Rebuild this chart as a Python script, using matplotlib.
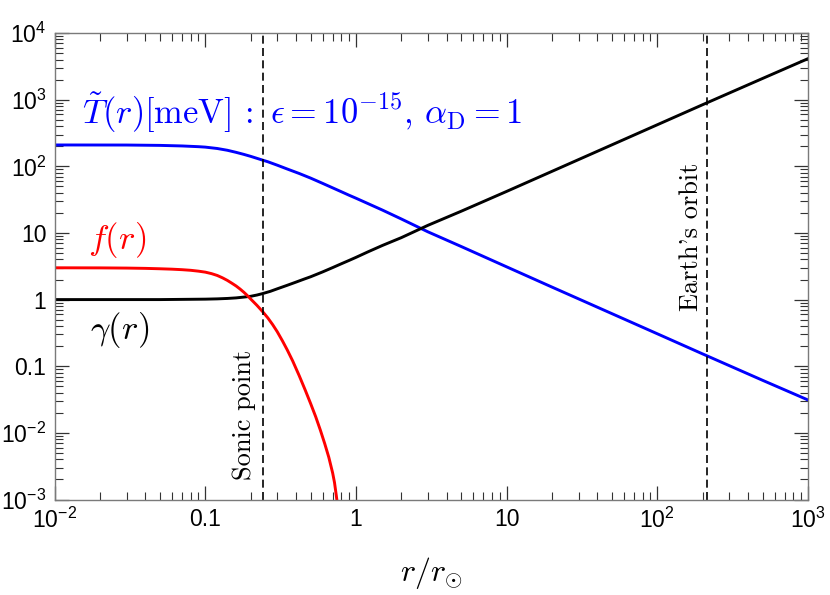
import matplotlib
matplotlib.use("Agg")
import matplotlib.pyplot as plt
from matplotlib.ticker import FixedLocator, FixedFormatter, LogLocator, NullFormatter

# ---------------- data ----------------
r_T = [0.01, 0.03, 0.05, 0.07, 0.09, 0.1, 0.12, 0.14, 0.16, 0.18, 0.2, 0.229,
       0.26, 0.3, 0.35, 0.42, 0.5, 0.6, 0.7, 0.8, 0.9, 1.0, 1.2, 1.5, 2, 3, 5,
       10, 20, 50, 100, 200, 500, 1000]
T_vals = [209, 208.5, 206, 202, 197, 194, 185, 174, 162, 151, 141, 128,
          117, 104, 91, 78, 66.5, 55.5, 47.5, 41.5, 36.8, 33.2, 27.6, 22, 16.2, 10.4, 6.25,
          3.1, 1.54, 0.615, 0.307, 0.153, 0.0615, 0.0312]

r_g = [0.01, 0.05, 0.08, 0.1, 0.12, 0.14, 0.16, 0.18, 0.2, 0.22, 0.24, 0.27,
       0.3, 0.35, 0.4, 0.45, 0.5, 0.6, 0.7, 0.8, 0.9, 1.0, 1.2, 1.5, 2, 3, 5,
       10, 20, 50, 100, 200, 500, 1000]
g_vals = [1.0, 1.0, 1.01, 1.015, 1.025, 1.04, 1.06, 1.09, 1.12, 1.17, 1.23, 1.33,
          1.45, 1.64, 1.83, 2.02, 2.2, 2.6, 3.02, 3.45, 3.87, 4.3, 5.2, 6.5, 8.5, 13.0, 21.2,
          42, 84, 210, 420, 840, 2080, 4120]

r_f = [0.01, 0.02, 0.03, 0.04, 0.05, 0.06, 0.07, 0.08, 0.09, 0.1, 0.11, 0.12,
       0.13, 0.14, 0.15, 0.16, 0.17, 0.18, 0.19, 0.2, 0.22, 0.24, 0.26, 0.28,
       0.3, 0.325, 0.35, 0.38, 0.42, 0.46, 0.5, 0.54, 0.58, 0.62, 0.66, 0.7,
       0.72, 0.74, 0.76]
f_vals = [3.0, 2.99, 2.97, 2.94, 2.9, 2.86, 2.81, 2.75, 2.67, 2.58, 2.45, 2.3,
          2.12, 1.94, 1.76, 1.6, 1.44, 1.29, 1.15, 1.02, 0.82, 0.66, 0.53, 0.42,
          0.33, 0.24, 0.175, 0.12, 0.072, 0.044, 0.0275, 0.0175, 0.011, 0.0069, 0.0043, 0.0025,
          0.0018, 0.00115, 0.00072]

sonic_r = 0.24
earth_r = 215

x_ticks = [1e-2, 1e-1, 1, 10, 1e2, 1e3]
x_ticklabels = [r'$10^{-2}$', '0.1', '1', '10', r'$10^{2}$', r'$10^{3}$']
y_ticks = [1e-3, 1e-2, 1e-1, 1, 10, 1e2, 1e3, 1e4]
y_ticklabels = [r'$10^{-3}$', r'$10^{-2}$', '0.1', '1', '10', r'$10^{2}$', r'$10^{3}$', r'$10^{4}$']

# ---------------- style ----------------
plt.rcParams['font.family'] = ['Liberation Sans', 'DejaVu Sans']
plt.rcParams['mathtext.fontset'] = 'custom'
plt.rcParams['mathtext.rm'] = 'Liberation Sans'
plt.rcParams['mathtext.it'] = 'Liberation Sans:italic'
plt.rcParams['mathtext.bf'] = 'Liberation Sans:bold'

fig = plt.figure(figsize=(8.3, 5.95), dpi=100)
ax = fig.add_axes([0.0659, 0.1605, 0.9075, 0.784])

lw = 2.1
ax.plot(r_T, T_vals, color='#0000ff', lw=lw, solid_joinstyle='round')
ax.plot(r_g, g_vals, color='black', lw=lw, solid_joinstyle='round')
ax.plot(r_f, f_vals, color='#ff0000', lw=lw, solid_joinstyle='round')

ax.axvline(sonic_r, color='black', lw=1.2, ls=(0, (4.8, 2.6)))
ax.axvline(earth_r, color='black', lw=1.2, ls=(0, (4.8, 2.6)))

ax.set_xscale('log')
ax.set_yscale('log')
ax.set_xlim(1e-2, 1e3)
ax.set_ylim(1e-3, 1e4)

ax.xaxis.set_major_locator(FixedLocator(x_ticks))
ax.xaxis.set_major_formatter(FixedFormatter(x_ticklabels))
ax.yaxis.set_major_locator(FixedLocator(y_ticks))
ax.yaxis.set_major_formatter(FixedFormatter(y_ticklabels))
ax.xaxis.set_minor_locator(LogLocator(base=10, subs=range(2, 10), numticks=50))
ax.yaxis.set_minor_locator(LogLocator(base=10, subs=range(2, 10), numticks=50))
ax.xaxis.set_minor_formatter(NullFormatter())
ax.yaxis.set_minor_formatter(NullFormatter())

for s in ax.spines.values():
    s.set_color('#7a7a7a')
    s.set_linewidth(1.0)
ax.tick_params(which='both', direction='in', top=True, right=True, color='#333333')
ax.tick_params(which='major', length=10, width=0.9, labelsize=16.5, pad=6)
ax.tick_params(which='minor', length=5.5, width=0.8)

ax.set_xlabel(r'$r/r_{\odot}$', fontsize=23, math_fontfamily='cm', labelpad=16)

# labels
fig.text(82/830, 1 - 124/595,
         r'$\tilde{T}(r)[\mathrm{meV}]\,:\ \epsilon=10^{-15},\,\alpha_{\mathrm{D}}=1$',
         color='#0000ff', fontsize=24.8, math_fontfamily='cm', ha='left', va='baseline')
fig.text(88/830, 1 - 249/595, r'$f(r)$', color='#ff0000', fontsize=25,
         math_fontfamily='cm', ha='left', va='baseline')
fig.text(90/830, 1 - 339/595, r'$\gamma(r)$', color='black', fontsize=25,
         math_fontfamily='cm', ha='left', va='baseline')

fig.text(256/830, 1 - 480/595, 'Sonic point', family='cmr10', fontsize=19,
         rotation=90, ha='right', va='bottom')
fig.text(703/830, 1 - 311/595, "Earth's orbit", family='cmr10',
         fontsize=19, rotation=90, ha='right', va='bottom')

fig.savefig('out.png', dpi=100)
